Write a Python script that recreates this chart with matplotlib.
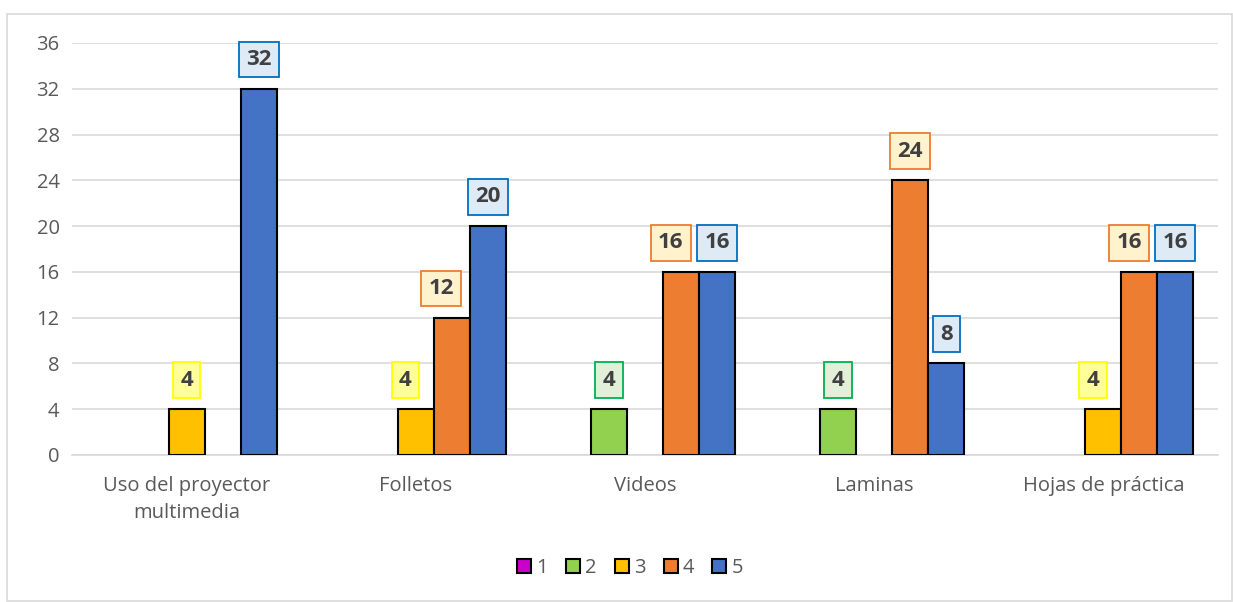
import matplotlib.pyplot as plt
import numpy as np
from matplotlib.patches import Patch, Rectangle

plt.rcParams['font.family'] = ['Open Sans', 'DejaVu Sans']

categorias = ['Uso del proyector\nmultimedia', 'Folletos', 'Videos', 'Laminas', 'Hojas de práctica']
series = ['1', '2', '3', '4', '5']
valores = [
    [0, 0, 0, 0, 0],      # 1
    [0, 0, 4, 4, 0],      # 2
    [4, 4, 0, 0, 4],      # 3
    [0, 12, 16, 24, 16],  # 4
    [32, 20, 16, 8, 16],  # 5
]
yticks = [0, 4, 8, 12, 16, 20, 24, 28, 32, 36]

colores = ['#CC00CC', '#92D050', '#FFC000', '#ED7D31', '#4472C4']
# fondo y borde de las etiquetas de cada serie
etiqueta_fondo = ['#F5CCF5', '#E2F0D9', '#FFFF99', '#FFF2CC', '#DEEBF7']
etiqueta_borde = ['#CC00CC', '#00B050', '#FFFF00', '#ED7D31', '#0070C0']

fig = plt.figure(figsize=(12.33, 6.02), dpi=100)
ax = fig.add_axes([72 / 1233, 1 - 455 / 602, (1218 - 72) / 1233, (455 - 43) / 602])

# marco exterior del grafico
fig.patches.append(Rectangle((7 / 1233, 0.002), 1 - 7 / 1233 - 0.001, 1 - 14 / 602 - 0.002,
                             transform=fig.transFigure, fill=False,
                             edgecolor='#D9D9D9', linewidth=1.2))

x = np.arange(len(categorias))
ancho = 36 / 229.2

for i, (serie, vals) in enumerate(zip(series, valores)):
    pos = x + (i - 2) * ancho
    barras = ax.bar(pos, vals, width=ancho, color=colores[i], edgecolor='black',
                    linewidth=1.5, zorder=3)
    for j, (b, v) in enumerate(zip(barras, vals)):
        if v == 0:
            b.set_visible(False)
            continue
        # correr la etiqueta a la izquierda si choca con la de la barra vecina
        dx = 0
        if i + 1 < len(valores) and valores[i + 1][j] >= v:
            dx = -7.5
        ax.annotate(str(v), (b.get_x() + b.get_width() / 2, v),
                    xytext=(dx, 21), textcoords='offset points',
                    ha='center', va='center', fontsize=16, fontweight='bold',
                    color='#404040', zorder=4,
                    bbox=dict(boxstyle='square,pad=0.33', facecolor=etiqueta_fondo[i],
                              edgecolor=etiqueta_borde[i], linewidth=1.3))

ax.set_ylim(0, 36)
ax.set_xlim(-0.5, len(categorias) - 0.5)
ax.set_yticks(yticks)
ax.set_xticks(x)
ax.set_xticklabels(categorias, fontsize=14.5, color='#595959', linespacing=1.5)
ax.tick_params(axis='y', labelsize=14.5, labelcolor='#595959', length=0, pad=9)
ax.tick_params(axis='x', length=0, pad=15)
ax.grid(axis='y', color='#D9D9D9', linewidth=1.2, zorder=0)
for s in ['top', 'right', 'left']:
    ax.spines[s].set_visible(False)
ax.spines['bottom'].set_color('#D9D9D9')
ax.spines['bottom'].set_linewidth(1.2)

handles = [Patch(facecolor=c, edgecolor='black', linewidth=1.5) for c in colores]
fig.legend(handles, series, loc='center', bbox_to_anchor=(630 / 1233, 1 - 568 / 602),
           ncol=5, frameon=False, fontsize=14.5, labelcolor='#595959',
           handlelength=0.7, handleheight=0.7, handletextpad=0.25, columnspacing=0.9)

fig.savefig('out.png', dpi=100)
